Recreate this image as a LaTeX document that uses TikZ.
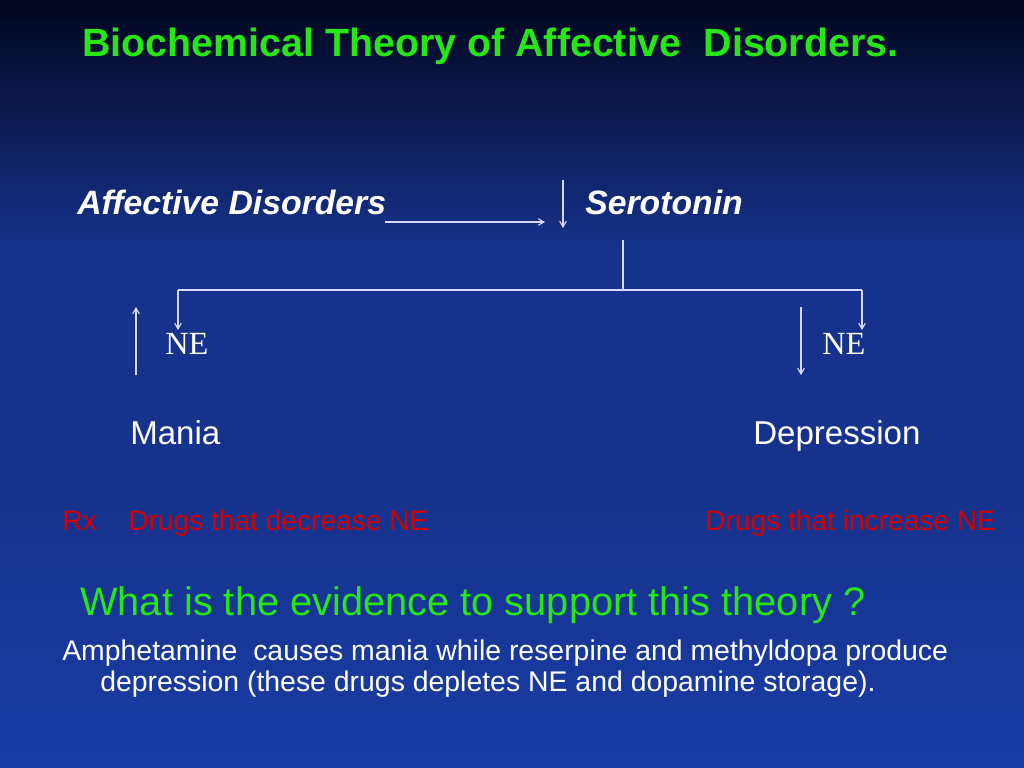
\documentclass[tikz,border=0pt]{standalone}
\usepackage{fontspec}
\setmainfont{Liberation Sans}
\newfontfamily\timesfont{Liberation Serif}
\usetikzlibrary{arrows}
\definecolor{bgtop}{RGB}{2,6,30}
\definecolor{bgmid}{RGB}{22,50,140}
\definecolor{bgbot}{RGB}{26,60,165}
\definecolor{titlegreen}{RGB}{40,230,20}
\definecolor{rxred}{RGB}{210,0,0}
\tikzset{
  txt/.style={anchor=west,inner sep=0pt,text=white,text height=0.72em,text depth=0.21em},
  ln/.style={draw=white!85!blue,line width=0.8pt},
  arr/.style={ln,->,>=angle 60}
}
\begin{document}
\begin{tikzpicture}[x=0.025cm,y=-0.025cm]
    \shade[top color=bgtop,bottom color=bgmid] (0,0) rectangle (1024,250);
    \fill[bgmid] (0,249) rectangle (1024,500);
    \shade[top color=bgmid,bottom color=bgbot] (0,499) rectangle (1024,768);
    \useasboundingbox (0,0) rectangle (1024,768);
    \node[txt,text=titlegreen,font=\fontsize{28}{32}\selectfont\bfseries] (T) at (82,53) {Biochemical Theory of Affective\ \ Disorders.};
    \node[txt,font=\fontsize{24}{28}\selectfont\bfseries\itshape] (AD) at (77,211) {Affective Disorders};
    \node[txt,font=\fontsize{24}{28}\selectfont\bfseries\itshape] (S) at (585,211) {Serotonin};
    \coordinate (a1) at (385,222);
    \coordinate (a2) at (545,222);
    \draw[arr] (a1) -- (a2);
    \coordinate (s1) at (563,180);
    \coordinate (s2) at (563,228);
    \draw[arr] (s1) -- (s2);
    \coordinate (b0) at (623,240);
    \coordinate (b1) at (623,290);
    \coordinate (bl) at (178,290);
    \coordinate (br) at (862,290);
    \coordinate (nl) at (178,330);
    \coordinate (nr) at (862,330);
    \draw[ln] (b0) -- (b1);
    \draw[ln] (bl) -- (br);
    \draw[arr] (bl) -- (nl);
    \draw[arr] (br) -- (nr);
    \node[txt,font=\fontsize{23}{26}\selectfont\timesfont] (NEl) at (165,351) {NE};
    \node[txt,font=\fontsize{23}{26}\selectfont\timesfont] (NEr) at (822,351) {NE};
    \coordinate (u1) at (136,375);
    \coordinate (u2) at (136,307);
    \draw[arr] (u1) -- (u2);
    \coordinate (d1) at (801,307);
    \coordinate (d2) at (801,375);
    \draw[arr] (d1) -- (d2);
    \node[txt,font=\fontsize{23.5}{27}\selectfont] (M) at (130,441) {Mania};
    \node[txt,font=\fontsize{23.5}{27}\selectfont] (D) at (753,441) {Depression};
    \node[txt,text=rxred,font=\fontsize{20}{24}\selectfont] (Rx) at (62,527) {Rx};
    \node[txt,text=rxred,font=\fontsize{20}{24}\selectfont] (Dd) at (128,527) {Drugs that decrease NE};
    \node[txt,text=rxred,font=\fontsize{20}{24}\selectfont] (Di) at (705,527) {Drugs that increase NE};
    \node[txt,text=titlegreen,font=\fontsize{28.3}{32}\selectfont] (Q) at (80,612) {What is the evidence to support this theory ?};
    \node[txt,font=\fontsize{20.2}{24}\selectfont] (E1) at (62,657) {Amphetamine\ \ causes mania while reserpine and methyldopa produce};
    \node[txt,font=\fontsize{20.2}{24}\selectfont] (E2) at (100,688) {depression (these drugs depletes NE and dopamine storage).};
\end{tikzpicture}
\end{document}
